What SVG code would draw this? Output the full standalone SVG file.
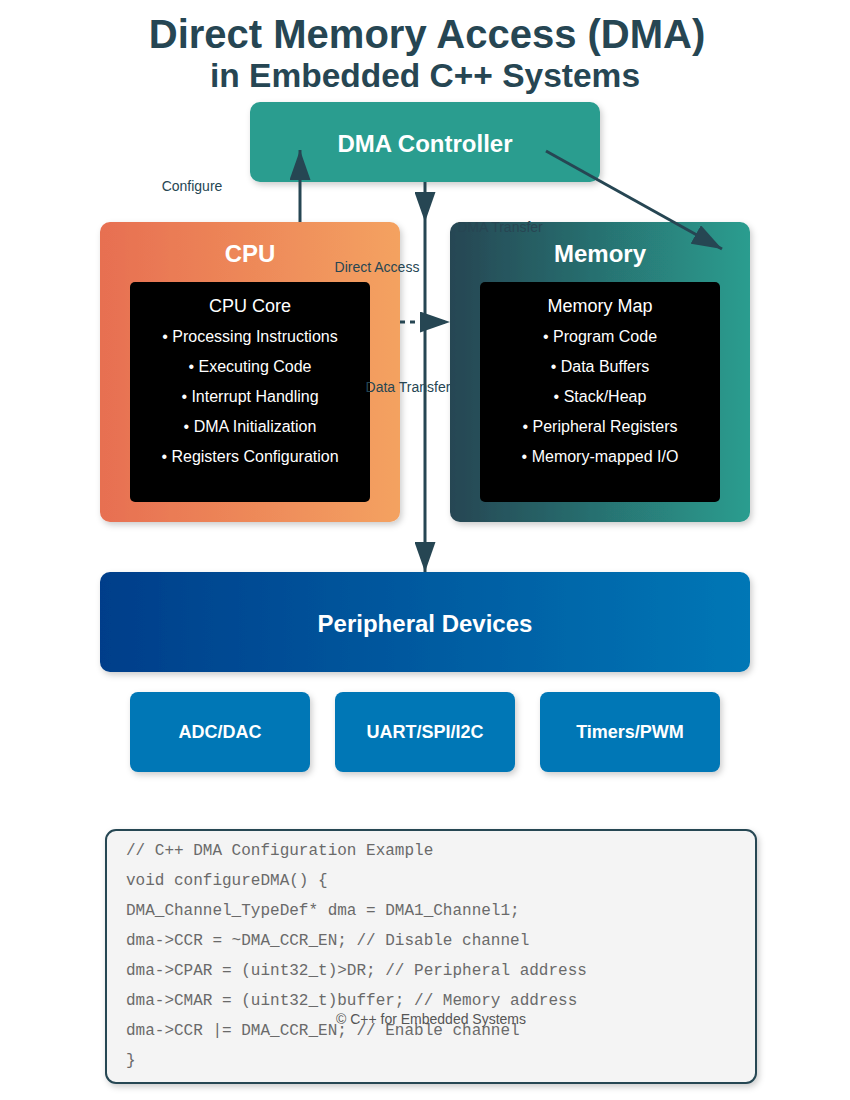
<svg xmlns="http://www.w3.org/2000/svg" width="850" height="1100" viewBox="0 0 850 1100">
<style>
.title{font-family:"Liberation Sans",Arial,sans-serif;font-weight:bold;fill:#264653;text-anchor:middle}
.head{font-family:"Liberation Sans",Arial,sans-serif;font-weight:bold;fill:#fff;text-anchor:middle;font-size:24px}
.sub{font-family:"Liberation Sans",Arial,sans-serif;fill:#fff;text-anchor:middle;font-size:18px}
.item{font-family:"Liberation Sans",Arial,sans-serif;fill:#fff;text-anchor:middle;font-size:16px}
.small{font-family:"Liberation Sans",Arial,sans-serif;font-weight:bold;fill:#fff;text-anchor:middle;font-size:18px}
.lbl{font-family:"Liberation Sans",Arial,sans-serif;fill:#264653;text-anchor:middle;font-size:14px}
.code{font-family:"Liberation Mono","Courier New",monospace;fill:#6a6a6a;font-size:16px}
.conn{stroke:#264653;stroke-width:3;fill:none}
.shadow{filter:url(#sh)}
</style>
<defs>
<filter id="sh" x="-10%" y="-10%" width="120%" height="130%">
<feDropShadow dx="2" dy="3" stdDeviation="3" flood-color="#000" flood-opacity="0.2"/>
</filter>
<linearGradient id="gCpu" x1="0" y1="0" x2="1" y2="0"><stop offset="0" stop-color="#e76f51"/><stop offset="1" stop-color="#f4a261"/></linearGradient>
<linearGradient id="gMem" x1="0" y1="0" x2="1" y2="0"><stop offset="0" stop-color="#264653"/><stop offset="1" stop-color="#2a9d8f"/></linearGradient>
<linearGradient id="gPer" x1="0" y1="0" x2="1" y2="0"><stop offset="0" stop-color="#023e8a"/><stop offset="1" stop-color="#0077b6"/></linearGradient>
<marker id="arr" viewBox="0 0 10 7" refX="10" refY="3.5" markerWidth="10" markerHeight="7" orient="auto" markerUnits="strokeWidth">
<polygon points="0 0,10 3.5,0 7" fill="#264653"/>
</marker>
</defs>
<rect width="850" height="1100" fill="#fff"/>
<g id="title">
<text class="title" x="427" y="48" font-size="40">Direct Memory Access (DMA)</text>
<text class="title" x="425" y="87" font-size="33.5">in Embedded C++ Systems</text>
</g>
<g id="dma-controller">
<rect class="shadow" x="250" y="102" width="350" height="80" rx="10" fill="#2a9d8f"/>
<text class="head" x="425" y="152">DMA Controller</text>
</g>
<g id="cpu">
<rect class="shadow" x="100" y="222" width="300" height="300" rx="10" fill="url(#gCpu)"/>
<text class="head" x="250" y="262">CPU</text>
<rect x="130" y="282" width="240" height="220" rx="5" fill="#000"/>
<text class="sub" x="250" y="312">CPU Core</text>
<text class="item" x="250" y="342">• Processing Instructions</text>
<text class="item" x="250" y="372">• Executing Code</text>
<text class="item" x="250" y="402">• Interrupt Handling</text>
<text class="item" x="250" y="432">• DMA Initialization</text>
<text class="item" x="250" y="462">• Registers Configuration</text>
</g>
<g id="memory">
<rect class="shadow" x="450" y="222" width="300" height="300" rx="10" fill="url(#gMem)"/>
<text class="head" x="600" y="262">Memory</text>
<rect x="480" y="282" width="240" height="220" rx="5" fill="#000"/>
<text class="sub" x="600" y="312">Memory Map</text>
<text class="item" x="600" y="342">• Program Code</text>
<text class="item" x="600" y="372">• Data Buffers</text>
<text class="item" x="600" y="402">• Stack/Heap</text>
<text class="item" x="600" y="432">• Peripheral Registers</text>
<text class="item" x="600" y="462">• Memory-mapped I/O</text>
</g>
<g id="peripherals">
<rect class="shadow" x="100" y="572" width="650" height="100" rx="10" fill="url(#gPer)"/>
<text class="head" x="425" y="632">Peripheral Devices</text>
</g>
<g id="adc-dac">
<rect class="shadow" x="130" y="692" width="180" height="80" rx="8" fill="#0077b6"/>
<text class="small" x="220" y="738">ADC/DAC</text>
</g>
<g id="uart-spi-i2c">
<rect class="shadow" x="335" y="692" width="180" height="80" rx="8" fill="#0077b6"/>
<text class="small" x="425" y="738">UART/SPI/I2C</text>
</g>
<g id="timers-pwm">
<rect class="shadow" x="540" y="692" width="180" height="80" rx="8" fill="#0077b6"/>
<text class="small" x="630" y="738">Timers/PWM</text>
</g>
<g id="connectors">
<text class="lbl" x="192" y="191">Configure</text>
<text class="lbl" x="377" y="272">Direct Access</text>
<text class="lbl" x="408" y="392">Data Transfer</text>
<text class="lbl" x="500" y="232">DMA Transfer</text>
<line class="conn" x1="300" y1="222" x2="300" y2="150" marker-end="url(#arr)"/>
<line class="conn" x1="425" y1="182" x2="425" y2="222" marker-end="url(#arr)"/>
<line class="conn" x1="425" y1="222" x2="425" y2="572" marker-end="url(#arr)"/>
<line class="conn" x1="400" y1="322" x2="450" y2="322" stroke-dasharray="5,5" marker-end="url(#arr)"/>
<line class="conn" x1="546" y1="151" x2="722" y2="249" marker-end="url(#arr)"/>
</g>
<g id="code">
<rect class="shadow" x="106" y="830" width="650" height="253" rx="10" fill="#f4f4f4" stroke="#264653" stroke-width="2"/>
<text class="code" x="126" y="855">// C++ DMA Configuration Example</text>
<text class="code" x="126" y="885">void configureDMA() {</text>
<text class="code" x="126" y="915">DMA_Channel_TypeDef* dma = DMA1_Channel1;</text>
<text class="code" x="126" y="945">dma-&gt;CCR = ~DMA_CCR_EN; // Disable channel</text>
<text class="code" x="126" y="975">dma-&gt;CPAR = (uint32_t)&gt;DR; // Peripheral address</text>
<text class="code" x="126" y="1005">dma-&gt;CMAR = (uint32_t)buffer; // Memory address</text>
<text class="code" x="126" y="1035">dma-&gt;CCR |= DMA_CCR_EN; // Enable channel</text>
<text class="code" x="126" y="1065">}</text>
</g>
<g id="footer">
<text x="431" y="1024" font-family="'Liberation Sans',Arial,sans-serif" font-size="14" fill="#555" text-anchor="middle">© C++ for Embedded Systems</text>
</g>
</svg>
